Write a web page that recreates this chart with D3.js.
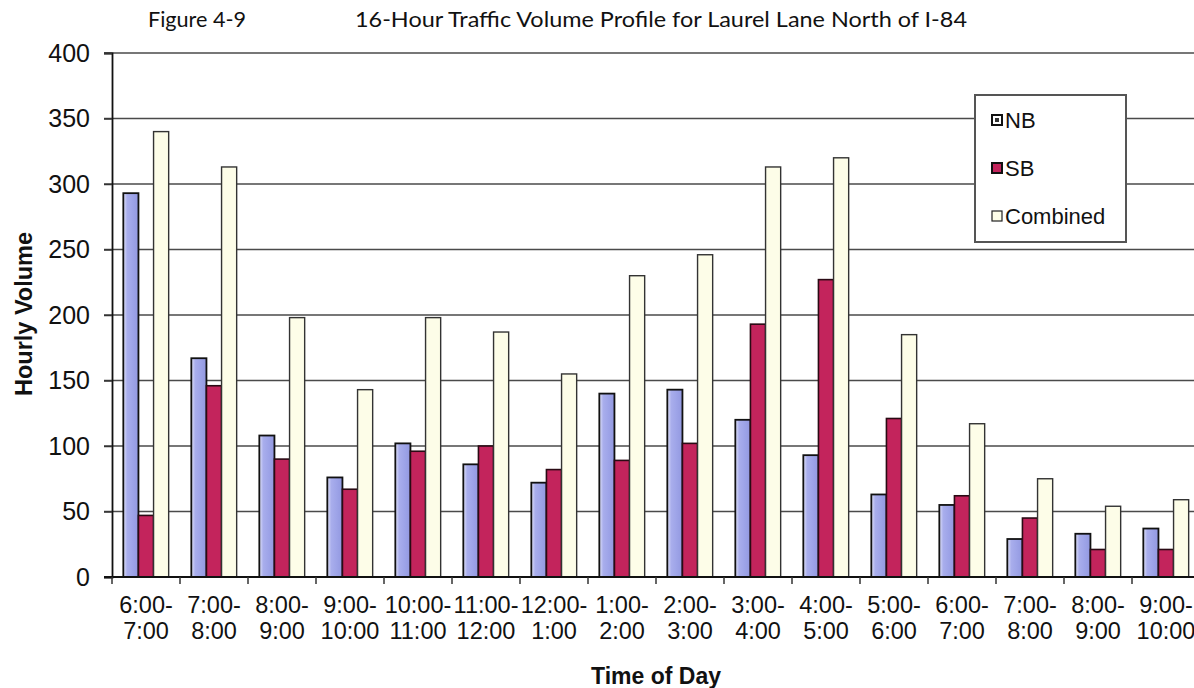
<!DOCTYPE html>
<html>
<head>
<meta charset="utf-8">
<script src="https://cdn.jsdelivr.net/npm/d3@7/dist/d3.min.js"></script>
<style>
  html, body { margin: 0; padding: 0; background: #fff; }
  svg { display: block; font-family: "Liberation Sans", Arial, sans-serif; }
</style>
</head>
<body>
<svg id="chart" width="1194" height="688"></svg>
<script>
// Hourly time bins (two-line tick labels are split after the dash)
const categories = ["6:00-7:00", "7:00-8:00", "8:00-9:00", "9:00-10:00", "10:00-11:00",
  "11:00-12:00", "12:00-1:00", "1:00-2:00", "2:00-3:00", "3:00-4:00", "4:00-5:00",
  "5:00-6:00", "6:00-7:00 pm", "7:00-8:00 pm", "8:00-9:00 pm", "9:00-10:00 pm"];

// Hourly volumes by direction
const nbValues = [293, 167, 108, 76, 102, 86, 72, 140, 143, 120, 93, 63, 55, 29, 33, 37];
const sbValues = [47, 146, 90, 67, 96, 100, 82, 89, 102, 193, 227, 121, 62, 45, 21, 21];
const combinedValues = [340, 313, 198, 143, 198, 187, 155, 230, 246, 313, 320, 185, 117, 75, 54, 59];

const seriesNames = ["NB", "SB", "Combined"];
const yTicks = [0, 50, 100, 150, 200, 250, 300, 350, 400];

const series = [
  { name: "NB", values: nbValues, fill: "url(#nbFill)", stroke: "#111", sw: 1.8 },
  { name: "SB", values: sbValues, fill: "#c3245c", stroke: "#2a0a14", sw: 1.6 },
  { name: "Combined", values: combinedValues, fill: "#fdfde8", stroke: "#333", sw: 1.4 }
];

const svg = d3.select("#chart");
const plot = { left: 112, right: 1200, top: 53, bottom: 577 };

const defs = svg.append("defs");
const grad = defs.append("linearGradient").attr("id", "nbFill")
  .attr("x1", "0%").attr("x2", "100%").attr("y1", "0%").attr("y2", "0%");
grad.append("stop").attr("offset", "0%").attr("stop-color", "#e4e6fb");
grad.append("stop").attr("offset", "25%").attr("stop-color", "#a9aeec");
grad.append("stop").attr("offset", "60%").attr("stop-color", "#9ea4e8");
grad.append("stop").attr("offset", "100%").attr("stop-color", "#9298e0");

const x = d3.scaleBand().domain(d3.range(categories.length))
  .range([plot.left, plot.right]).paddingInner(0).paddingOuter(0);
const xSub = d3.scaleBand().domain(seriesNames)
  .range([0, x.bandwidth()]).paddingInner(0).paddingOuter(0.75);
const y = d3.scaleLinear().domain([0, 400]).range([plot.bottom, plot.top]);

// Horizontal gridlines
svg.append("g").selectAll("line").data(yTicks.filter(d => d > 0)).join("line")
  .attr("x1", plot.left - 8).attr("x2", 1194)
  .attr("y1", d => y(d)).attr("y2", d => y(d))
  .attr("stroke", "#4a4a4a").attr("stroke-width", 1.5);

// Y axis
const yAxis = svg.append("g").attr("transform", `translate(${plot.left},0)`)
  .call(d3.axisLeft(y).tickValues(yTicks).tickSize(8).tickPadding(14));
yAxis.attr("font-family", null).attr("font-size", null);
yAxis.select(".domain").attr("stroke", "#111").attr("stroke-width", 1.8);
yAxis.selectAll(".tick line").attr("stroke", "#333").attr("stroke-width", 1.5);
yAxis.selectAll(".tick text").attr("font-size", 25).attr("fill", "#111");

// Bars
const groups = svg.append("g").selectAll("g").data(series).join("g");
groups.each(function (s) {
  d3.select(this).selectAll("rect").data(s.values).join("rect")
    .attr("x", (d, i) => x(i) + xSub(s.name))
    .attr("width", xSub.bandwidth())
    .attr("y", d => y(d))
    .attr("height", d => y(0) - y(d))
    .attr("fill", s.fill)
    .attr("stroke", s.stroke)
    .attr("stroke-width", s.sw);
});

// X axis baseline and category ticks
const xAxis = svg.append("g").attr("transform", `translate(0,${plot.bottom})`);
xAxis.append("line").attr("x1", plot.left - 8).attr("x2", 1194)
  .attr("y1", 0).attr("y2", 0).attr("stroke", "#111").attr("stroke-width", 1.8);
xAxis.selectAll("line.tk").data(d3.range(categories.length + 1)).join("line")
  .attr("class", "tk")
  .attr("x1", i => plot.left + i * x.step()).attr("x2", i => plot.left + i * x.step())
  .attr("y1", 0).attr("y2", 7).attr("stroke", "#333").attr("stroke-width", 1.5);

const labels = xAxis.selectAll("text.cat").data(categories).join("text")
  .attr("class", "cat")
  .attr("text-anchor", "middle")
  .attr("font-size", 23.5)
  .attr("fill", "#111")
  .attr("transform", (d, i) => `translate(${x(i) + x.bandwidth() / 2},0)`);
labels.each(function (d) {
  const parts = d.replace(" pm", "").split("-");
  const t = d3.select(this);
  t.append("tspan").attr("x", 0).attr("y", 36).text(parts[0] + "-");
  t.append("tspan").attr("x", 0).attr("y", 62).text(parts[1]);
});

// Axis titles
svg.append("text").attr("x", 656).attr("y", 684).attr("text-anchor", "middle")
  .attr("font-size", 23).attr("font-weight", "bold").attr("fill", "#111").text("Time of Day");
svg.append("text").attr("transform", "translate(32,314) rotate(-90)")
  .attr("text-anchor", "middle").attr("font-size", 23.5).attr("font-weight", "bold")
  .attr("fill", "#111").text("Hourly Volume");

// Figure heading
svg.append("text").attr("x", 148).attr("y", 27).attr("font-family", "Lato, 'Open Sans', sans-serif")
  .attr("font-size", 21).attr("fill", "#111")
  .attr("textLength", 98).attr("lengthAdjust", "spacingAndGlyphs")
  .text("Figure 4-9");
svg.append("text").attr("x", 355).attr("y", 27).attr("font-family", "Lato, 'Open Sans', sans-serif")
  .attr("font-size", 21).attr("fill", "#111")
  .attr("textLength", 612).attr("lengthAdjust", "spacingAndGlyphs")
  .text("16-Hour Traffic Volume Profile for Laurel Lane North of I-84");

// Legend
const legend = svg.append("g");
legend.append("rect").attr("x", 975).attr("y", 95).attr("width", 151).attr("height", 147)
  .attr("fill", "#fff").attr("stroke", "#555").attr("stroke-width", 2);
const legendRows = legend.selectAll("g.row").data(series).join("g").attr("class", "row")
  .attr("transform", (d, i) => `translate(992,${120 + i * 48})`);
legendRows.append("rect").attr("x", 0).attr("y", -5).attr("width", 10).attr("height", 10)
  .attr("fill", d => d.name === "NB" ? "#fff" : d.fill)
  .attr("stroke", d => d.name === "Combined" ? "#222" : "#111")
  .attr("stroke-width", d => d.name === "Combined" ? 1.2 : 2);
legendRows.filter(d => d.name === "NB").append("rect")
  .attr("x", 3).attr("y", -2).attr("width", 4).attr("height", 4).attr("fill", "#333");
legendRows.append("text").attr("x", 13).attr("y", 0).attr("dy", "0.36em")
  .attr("font-size", 22).attr("fill", "#111").text(d => d.name);
</script>
</body>
</html>
